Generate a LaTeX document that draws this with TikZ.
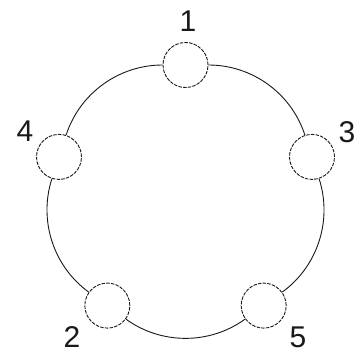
\documentclass[tikz,border=0pt]{standalone}
\usepackage{fontspec}
\setmainfont{Liberation Sans}
\usepackage{tikz}
\usetikzlibrary{positioning, calc}
\definecolor{RingLine}{RGB}{25, 25, 25}

\tikzset{
  seat/.style={circle, draw=RingLine, fill=white, line width=0.9pt,
    dash pattern=on 3.5pt off 1.2pt, minimum size=45pt, inner sep=0pt},
  ring/.style={RingLine, line width=0.9pt},
  seatnum/.style={font=\fontsize{30}{32}\selectfont, text=RingLine}
}

\begin{document}
\begin{tikzpicture}[x=1pt,y=1pt]
  \path[use as bounding box] (0,0) rectangle (358,354);
  \coordinate (mid) at (185.5,156);
  % seats on the ring
  \foreach \n/\a in {1/90,3/18,5/-54,2/-126,4/162}{
    \node[seat] (n\n) at ($(mid)+(\a:133)$) {};
  }
  % ring arcs between seats
  \draw[ring] (n1) to[bend left=36, looseness=0.94] (n3);
  \draw[ring] (n3) to[bend left=36, looseness=0.94] (n5);
  \draw[ring] (n5) to[bend left=36, looseness=0.94] (n2);
  \draw[ring] (n2) to[bend left=36, looseness=0.94] (n4);
  \draw[ring] (n4) to[bend left=36, looseness=0.94] (n1);
  % numbers
  \node[seatnum] (t1) at (188,333) {1};
  \node[seatnum] (t3) at (347,222) {3};
  \node[seatnum] (t5) at (298,17) {5};
  \node[seatnum] (t2) at (72,17) {2};
  \node[seatnum] (t4) at (25,223) {4};
\end{tikzpicture}
\end{document}
